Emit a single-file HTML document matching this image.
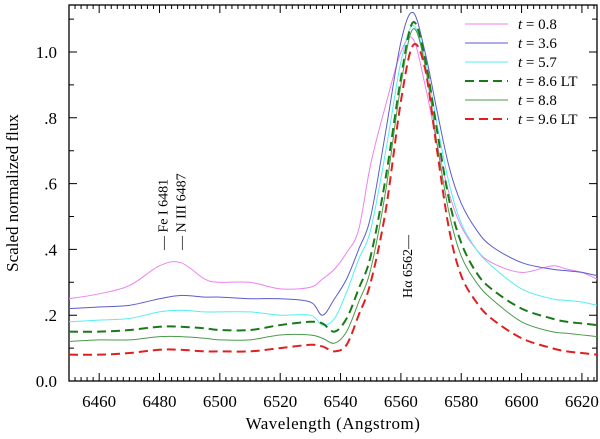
<!DOCTYPE html>
<html><head><meta charset="utf-8"><style>
body{margin:0;background:#fff}
svg, svg text{font-family:"Liberation Serif","Times New Roman",serif}
</style></head><body>
<svg width="600" height="434" xmlns="http://www.w3.org/2000/svg" font-family="Liberation Serif, serif">
<g id="axes"></g>
<g id="series"></g>
<g id="legend"></g>
</svg>
<script>
const wavelengths=[6450,6460,6470,6480,6487,6495,6500,6510,6520,6530,6534,6538,6542,6546,6550,6555,6560,6564,6568,6572,6576,6580,6585,6590,6600,6610,6615,6620,6625];
const fluxT08=[.25,.265,.29,.35,.36,.31,.30,.30,.28,.285,.31,.34,.39,.46,.66,.84,1.00,1.04,.90,.72,.57,.47,.40,.36,.33,.35,.34,.33,.31];
const fluxT36=[.22,.225,.23,.25,.26,.255,.255,.25,.25,.24,.20,.25,.31,.40,.50,.76,1.03,1.12,1.00,.82,.65,.54,.46,.41,.36,.34,.335,.33,.32];
const fluxT57=[.18,.185,.19,.21,.215,.21,.21,.21,.20,.20,.17,.19,.27,.37,.46,.70,.97,1.08,.98,.78,.60,.48,.40,.35,.28,.25,.245,.24,.23];
const fluxT86=[.15,.15,.155,.165,.165,.16,.155,.155,.17,.18,.175,.15,.19,.28,.38,.62,.92,1.09,.98,.76,.55,.42,.33,.28,.22,.19,.18,.175,.17];
const fluxT88=[.12,.125,.125,.135,.135,.13,.125,.125,.14,.14,.13,.115,.15,.24,.34,.58,.90,1.07,.96,.72,.51,.38,.30,.25,.18,.15,.145,.14,.135];
const fluxT96=[.08,.08,.085,.095,.095,.09,.09,.09,.10,.11,.105,.09,.11,.20,.30,.52,.85,1.02,.95,.70,.46,.32,.24,.19,.13,.10,.09,.085,.08];
const seriesLabels=["0.8","3.6","5.7","8.6 LT","8.8","9.6 LT"];
const xTicks=[6460,6480,6500,6520,6540,6560,6580,6600,6620];
const yTicks=[0,0.2,0.4,0.6,0.8,1.0];
const yTickLabels=["0.0",".2",".4",".6",".8","1.0"];

const NS="http://www.w3.org/2000/svg";
const FF='Liberation Serif, Times New Roman, serif';
const L=69,R=597,T=5,B=381,X0=6450,X1=6625;
const xs=v=>L+(v-X0)/(X1-X0)*(R-L);
const ys=v=>B-v*329;
function mk(tag,attrs,parent,txt){const e=document.createElementNS(NS,tag);for(const k in attrs)e.setAttribute(k,attrs[k]);if(tag==='text')e.setAttribute('font-family',FF);if(txt!=null)e.textContent=txt;parent.appendChild(e);return e;}
const ax=document.getElementById('axes');
const frame=mk('rect',{x:L,y:T,width:R-L,height:B-T,fill:'none',stroke:'#000','stroke-width':1.3},ax);


let d='';
for(let w=6452;w<=6624;w+=2){const x=xs(w);const len=(w%20===0)?8:4;d+=`M${x} ${B}v${-len}M${x} ${T}v${len}`;}
for(let i=0;i<=11;i++){const v=i*0.1,y=ys(v);const len=(i%2===0)?8:5;d+=`M${L} ${y}h${len}M${R} ${y}h${-len}`;}
const tk=mk('path',{d:d,stroke:'#000','stroke-width':1,fill:'none'},ax);


xTicks.forEach(v=>{const t=mk('text',{x:xs(v),y:407,'font-size':17,'text-anchor':'middle'},ax,String(v));

});
yTicks.forEach((v,i)=>{const t=mk('text',{x:57,y:ys(v)+6,'font-size':17,'text-anchor':'end'},ax,yTickLabels[i]);

});
const xt=mk('text',{x:333,y:429,'font-size':17,'text-anchor':'middle','letter-spacing':'0.5'},ax,'Wavelength (Angstrom)');


const yt=mk('text',{x:0,y:0,'font-size':17,'text-anchor':'middle',transform:'translate(18,193) rotate(-90)'},ax,'Scaled normalized flux');


function vlabel(x,y,txt,name){const t=mk('text',{x:0,y:0,'font-size':14,transform:`translate(${x},${y}) rotate(-90)`},ax,txt);

}
vlabel(xs(6481)+5,250,'— Fe I 6481','fe-i-annotation');
vlabel(xs(6487)+5,250,'— N III 6487','n-iii-annotation');
vlabel(xs(6562)+5,298,'Hα 6562—','h-alpha-annotation');

const colors=['#ee82ee','#5b5bd0','#55eeee','#1a7a1a','#4c9a4c','#e02020'];
const dashed=[false,false,false,true,false,true];
const widths=[1,1,1,2,1,2];
const data=[fluxT08,fluxT36,fluxT57,fluxT86,fluxT88,fluxT96];
const sg=document.getElementById('series');
data.forEach((arr,i)=>{
 const pts=arr.map((v,j)=>[xs(wavelengths[j]),ys(v)]);
 let p=`M${pts[0][0]} ${pts[0][1]}`;
 for(let j=0;j<pts.length-1;j++){const p0=pts[Math.max(0,j-1)],p1=pts[j],p2=pts[j+1],p3=pts[Math.min(pts.length-1,j+2)];
  p+=`C${p1[0]+(p2[0]-p0[0])/6} ${p1[1]+(p2[1]-p0[1])/6} ${p2[0]-(p3[0]-p1[0])/6} ${p2[1]-(p3[1]-p1[1])/6} ${p2[0]} ${p2[1]}`;}
 const a={d:p,fill:'none',stroke:colors[i],'stroke-width':widths[i]};
 if(dashed[i])a['stroke-dasharray']='9,5';
 const e=mk('path',a,sg);
 
 
});
const lg=document.getElementById('legend');
seriesLabels.forEach((s,i)=>{
 const y=24+i*19;
 const a={x1:465,x2:508,y1:y,y2:y,stroke:colors[i],'stroke-width':widths[i]};
 if(dashed[i])a['stroke-dasharray']='9,5';
 const ln=mk('line',a,lg);
 
 
 const t=mk('text',{x:518,y:y+5,'font-size':15},lg);
 
 
 mk('tspan',{'font-style':'italic'},t,'t');
 mk('tspan',{},t,' = '+s);
});
</script>
</body></html>
